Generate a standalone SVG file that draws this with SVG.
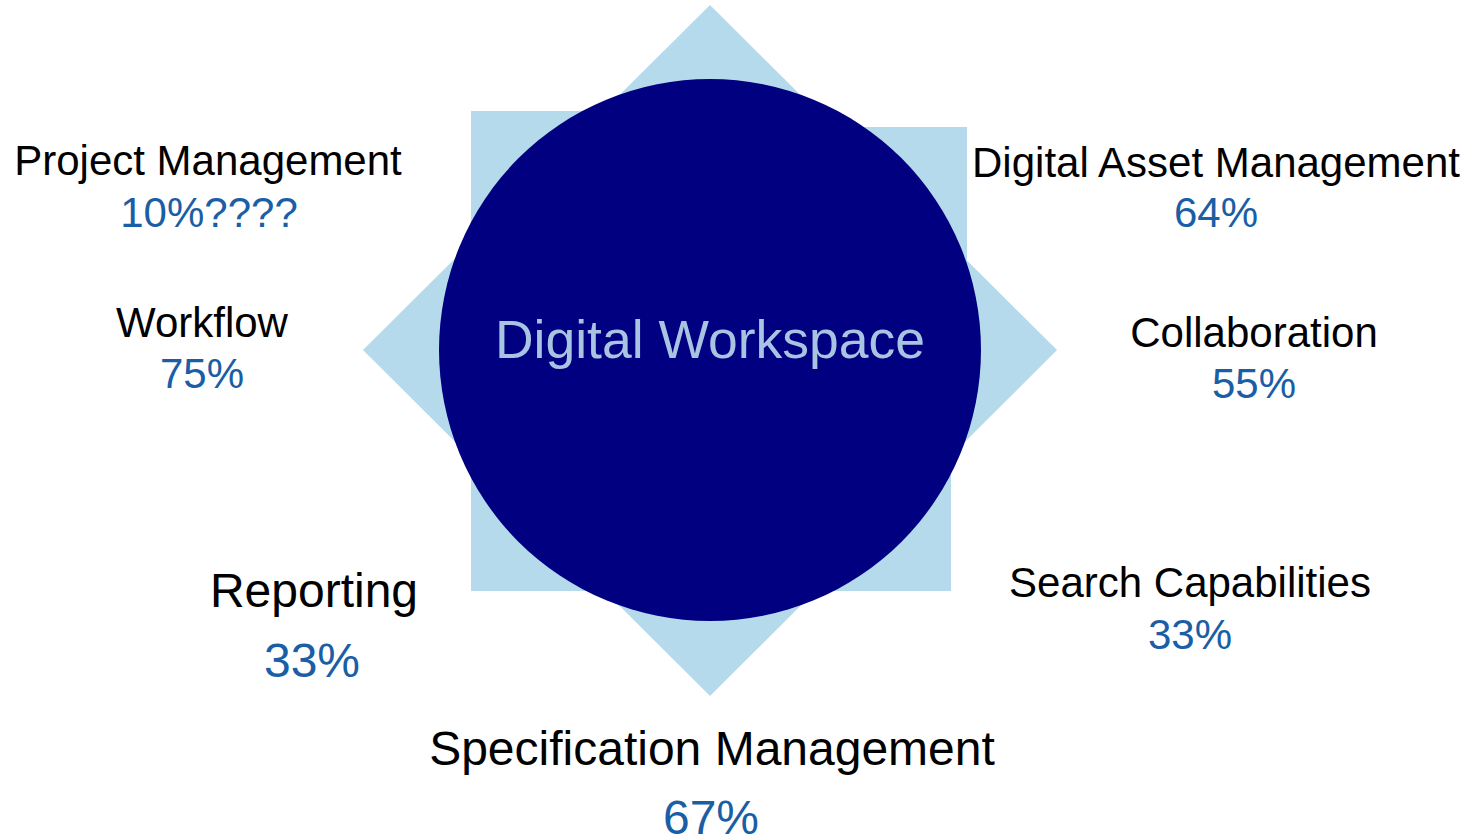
<svg xmlns="http://www.w3.org/2000/svg" width="1476" height="837" viewBox="0 0 1476 837">
<style>
.bg{fill:#b4daec}
.lab{font-family:"Liberation Sans",Arial,sans-serif;font-size:42px;fill:#000;text-anchor:middle}
.pct{font-family:"Liberation Sans",Arial,sans-serif;font-size:42px;fill:#1a5ea6;text-anchor:middle}
.big{font-size:48px}
</style>
<rect width="1476" height="837" fill="#fff"/>
<g id="hub">
<polygon class="bg" points="710,5 1057,350 710,696 363,350"/>
<path class="bg" d="M471,111 H800 V127 H967 V300 H951 V591 H471 Z"/>
<circle cx="710" cy="350" r="271" fill="#000080"/>
<text x="710" y="358" font-family="Liberation Sans, Arial, sans-serif" font-size="53.5" fill="#a9c3e3" text-anchor="middle">Digital Workspace</text>
</g>
<g id="project-management">
<text class="lab" x="208" y="175">Project Management</text>
<text class="pct" x="209" y="227">10%????</text>
</g>
<g id="digital-asset-management">
<text class="lab" x="1216" y="177">Digital Asset Management</text>
<text class="pct" x="1216" y="227">64%</text>
</g>
<g id="workflow">
<text class="lab" x="202" y="337">Workflow</text>
<text class="pct" x="202" y="388">75%</text>
</g>
<g id="collaboration">
<text class="lab" x="1254" y="347">Collaboration</text>
<text class="pct" x="1254" y="398">55%</text>
</g>
<g id="search-capabilities">
<text class="lab" x="1190" y="597">Search Capabilities</text>
<text class="pct" x="1190" y="649">33%</text>
</g>
<g id="reporting">
<text class="lab big" x="314" y="607">Reporting</text>
<text class="pct big" x="312" y="677">33%</text>
</g>
<g id="specification-management">
<text class="lab big" x="712" y="765">Specification Management</text>
<text class="pct big" x="711" y="834">67%</text>
</g>
<g id="connectors"></g>
</svg>
